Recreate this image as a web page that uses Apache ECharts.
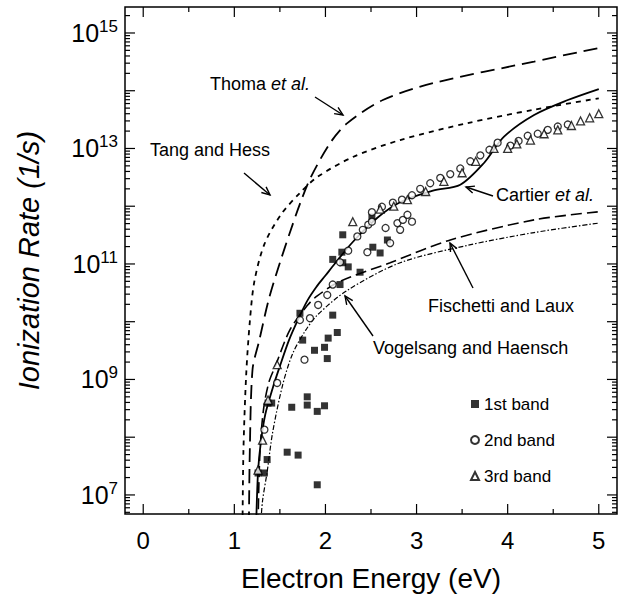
<!DOCTYPE html>
<html>
<head>
<meta charset="utf-8">
<script src="https://cdn.jsdelivr.net/npm/echarts@6.0.0/dist/echarts.min.js"></script>
<style>
  html, body { margin: 0; padding: 0; background: #fff; }
  #chart { width: 633px; height: 606px; }
</style>
</head>
<body>
<div id="chart"></div>
<script>
// 各曲线与散点数据 [电子能量 eV, 电离率 1/s]
const tangHess = [[1.09, 3e6], [1.10, 6e7], [1.13, 1.2e9], [1.17, 1.0e10], [1.22, 5.0e10], [1.33, 2.2e11],
  [1.51, 7.1e11], [1.72, 1.7e12], [1.91, 3.2e12], [2.30, 7.1e12], [2.82, 1.4e13], [3.56, 2.75e13],
  [4.29, 4.7e13], [5.0, 7.4e13]]
const thoma = [[1.16, 3e6], [1.17, 6e7], [1.20, 1.5e9], [1.27, 4.5e9], [1.38, 2.5e10], [1.50, 1.05e11],
  [1.61, 3.5e11], [1.72, 1.1e12], [1.84, 3.2e12], [2.06, 1.3e13], [2.24, 2.75e13], [2.63, 6.9e13],
  [3.18, 1.35e14], [4.29, 3.2e14], [5.0, 5.5e14]]
const cartier = [[1.24, 3.2e6], [1.26, 2.5e7], [1.29, 8e7], [1.34, 2.5e8], [1.42, 7e8], [1.50, 1.7e9],
  [1.60, 4.8e9], [1.70, 1.1e10], [1.80, 2.3e10], [1.90, 4e10], [2.00, 6.3e10], [2.10, 1e11], [2.30, 2.4e11],
  [2.57, 6.3e11], [2.82, 1.17e12], [3.18, 1.86e12], [3.48, 2.35e12], [3.74, 5.6e12], [3.96, 1.6e13],
  [4.29, 3.8e13], [4.66, 6.9e13], [5.0, 1.07e14]]
const fischetti = [[1.26, 3e6], [1.28, 5e7], [1.32, 3e8], [1.38, 9e8], [1.45, 1.7e9], [1.61, 7.2e9],
  [1.80, 1.9e10], [1.91, 2.8e10], [2.16, 5e10], [2.71, 1.05e11], [3.37, 2.6e11], [4.29, 5.8e11], [5.0, 8e11]]
const vogelsang = [[1.29, 3.2e6], [1.31, 8e6], [1.36, 2.5e7], [1.42, 1.2e8], [1.53, 8e8], [1.64, 2.8e9],
  [1.78, 7e9], [1.91, 1.3e10], [2.24, 3.5e10], [2.82, 1.05e11], [3.56, 2.1e11], [4.29, 3.5e11], [5.0, 5.1e11]]

const band1 = [[2.19, 3.2e11], [2.18, 1.6e11], [2.08, 1.2e11], [2.19, 1.05e11], [2.25, 8.9e10], [2.38, 7.2e10],
  [2.16, 4.4e10], [1.72, 1.4e10], [2.08, 1.3e10], [2.13, 6.5e9], [2.03, 5.2e9], [1.88, 3.2e9], [1.99, 3.6e9],
  [2.02, 2.3e9], [1.75, 4.8e9], [1.63, 3.3e8], [1.80, 5e8], [1.80, 3.6e8], [1.91, 2.8e8], [1.99, 3.5e8],
  [1.58, 5.5e7], [1.70, 4.9e7], [1.91, 1.5e7], [1.33, 2.4e7], [1.26, 2.4e7], [1.36, 4.1e7], [1.37, 3.9e8],
  [1.41, 3.9e8], [2.51, 6.5e11], [2.52, 1.95e11], [2.60, 1.55e11], [2.68, 2.6e11]]
const band2 = [[1.33, 1.35e8], [1.47, 8.7e8], [1.77, 2.2e9], [1.72, 1.07e10], [1.83, 1.15e10], [1.92, 1.95e10],
  [2.02, 2.9e10], [2.08, 4.4e10], [2.16, 1.07e11], [2.25, 1.7e11], [2.35, 3e11], [2.41, 3.9e11], [2.47, 4.8e11],
  [2.51, 7.9e11], [2.62, 9.8e11], [2.74, 1.15e12], [2.51, 5.4e11], [2.66, 4.2e11], [2.79, 5.1e11], [2.85, 5.8e11],
  [2.82, 3.9e11], [2.71, 2.3e11], [2.46, 1.6e11], [2.90, 7.1e11], [2.95, 5.4e11], [2.84, 1.3e12], [2.95, 1.55e12],
  [3.04, 2e12], [3.15, 2.5e12], [3.26, 3.1e12], [3.37, 3.6e12], [3.48, 4.5e12], [3.59, 6e12], [3.70, 7.6e12],
  [3.80, 9.5e12], [3.89, 1.26e13], [4.03, 1.12e13], [4.12, 1.35e13], [4.22, 1.66e13], [4.33, 1.8e13],
  [4.44, 2.1e13], [4.55, 2.4e13], [4.66, 2.6e13]]
const band3 = [[1.26, 2.7e7], [1.31, 8.9e7], [1.37, 4.4e8], [1.47, 1.8e9], [2.30, 5.4e11], [2.60, 8.9e11],
  [2.75, 1e12], [2.90, 1.3e12], [3.10, 1.8e12], [3.30, 2.7e12], [3.50, 3.8e12], [3.65, 6e12], [3.85, 1e13],
  [4.00, 1e13], [4.10, 1.2e13], [4.25, 1.4e13], [4.40, 1.8e13], [4.55, 2.1e13], [4.70, 2.5e13], [4.80, 3e13],
  [4.90, 3.4e13], [5.00, 4e13]]

const X_MIN = -0.2
const X_MAX = 5.2
const Y_MIN = Math.pow(10, 6.67)
const Y_MAX = Math.pow(10, 15.45)
const FONT = 'Liberation Sans'

// 刻度（内向，四边）
const ticks = []
for (let e = 6; e <= 15; e++) {
  for (let k = 1; k <= 9; k++) {
    const v = k * Math.pow(10, e)
    if (v < Y_MIN || v > Y_MAX) continue
    ticks.push([X_MIN, v, k === 1 ? 10 : 5, 1])
  }
}
for (let i = 0; i <= 10; i++) {
  ticks.push([i / 2, Y_MIN, i % 2 === 0 ? 10 : 5, 0])
}

function renderTick(params, api) {
  const len = api.value(2)
  const side = api.value(3)
  let a, b
  if (side === 1) {
    a = api.coord([X_MIN, api.value(1)])
    b = api.coord([X_MAX, api.value(1)])
    return {
      type: 'group',
      children: [
        { type: 'line', shape: { x1: a[0], y1: a[1], x2: a[0] + len, y2: a[1] }, style: { stroke: '#000', lineWidth: 1.2 } },
        { type: 'line', shape: { x1: b[0], y1: b[1], x2: b[0] - len, y2: b[1] }, style: { stroke: '#000', lineWidth: 1.2 } },
      ],
    }
  }
  a = api.coord([api.value(0), Y_MIN])
  b = api.coord([api.value(0), Y_MAX])
  return {
    type: 'group',
    children: [
      { type: 'line', shape: { x1: a[0], y1: a[1], x2: a[0], y2: a[1] - len }, style: { stroke: '#000', lineWidth: 1.2 } },
      { type: 'line', shape: { x1: b[0], y1: b[1], x2: b[0], y2: b[1] + len }, style: { stroke: '#000', lineWidth: 1.2 } },
    ],
  }
}

// 注释箭头
function arrow(x1, y1, x2, y2) {
  const a = Math.atan2(y2 - y1, x2 - x1)
  const h = 9
  const s = 0.42
  return {
    type: 'group',
    children: [
      { type: 'line', shape: { x1, y1, x2, y2 }, style: { stroke: '#000', lineWidth: 1.4 } },
      {
        type: 'polyline',
        shape: {
          points: [
            [x2 - h * Math.cos(a - s), y2 - h * Math.sin(a - s)],
            [x2, y2],
            [x2 - h * Math.cos(a + s), y2 - h * Math.sin(a + s)],
          ],
        },
        style: { stroke: '#000', fill: null, lineWidth: 1.4 },
      },
    ],
  }
}

function note(x, y, text) {
  return {
    type: 'text',
    x,
    y,
    style: {
      text,
      fill: '#000',
      fontSize: 18,
      fontFamily: FONT,
      verticalAlign: 'middle',
      rich: { i: { fontStyle: 'italic', fontSize: 18, fontFamily: FONT, fill: '#000' } },
    },
  }
}

function curve(name, data, type, width) {
  return {
    name,
    type: 'line',
    data,
    symbol: 'none',
    smooth: 0.3,
    clip: true,
    lineStyle: { color: '#000', width, type },
    z: 3,
  }
}

function dots(name, data, symbol, filled) {
  return {
    name,
    type: 'scatter',
    data,
    symbol,
    symbolSize: symbol === 'triangle' ? 8 : 7,
    itemStyle: filled
      ? { color: '#000' }
      : { color: '#fff', borderColor: '#000', borderWidth: 1.3 },
    z: 4,
  }
}

const chart = echarts.init(document.getElementById('chart'), null, { renderer: 'svg' })
chart.setOption({
  backgroundColor: '#fff',
  animation: false,
  textStyle: { fontFamily: FONT, color: '#000' },
  grid: { left: 125, right: 16, top: 7, bottom: 92, show: true, borderColor: '#000', borderWidth: 1.5 },
  legend: {
    data: ['1st band', '2nd band', '3rd band'],
    orient: 'vertical',
    left: 465,
    top: 389,
    itemWidth: 8,
    itemHeight: 8,
    itemGap: 16,
    textStyle: { fontSize: 17, fontFamily: FONT, color: '#000', lineHeight: 20 },
  },
  xAxis: {
    type: 'value',
    min: X_MIN,
    max: X_MAX,
    splitNumber: 5,
    axisLine: { show: false },
    axisTick: { show: false },
    splitLine: { show: false },
    axisLabel: {
      fontSize: 24,
      color: '#000',
      margin: 14,
      formatter: (v) => (Math.abs(v - Math.round(v)) < 1e-6 ? String(Math.round(v)) : ''),
    },
    name: 'Electron Energy (eV)',
    nameLocation: 'middle',
    nameGap: 50,
    nameTextStyle: { fontSize: 28, color: '#000', fontFamily: FONT },
  },
  yAxis: {
    type: 'log',
    logBase: 10,
    min: Y_MIN,
    max: Y_MAX,
    splitNumber: 10,
    axisLine: { show: false },
    axisTick: { show: false },
    splitLine: { show: false },
    axisLabel: {
      margin: 7,
      formatter: (v) => {
        const e = Math.log10(v)
        const r = Math.round(e)
        if (Math.abs(e - r) < 1e-6 && Math.abs(r % 2) === 1) return '{b|10}{s|' + r + '}'
        return ''
      },
      rich: {
        b: { fontSize: 25, lineHeight: 30, color: '#000', fontFamily: FONT },
        s: { fontSize: 17, lineHeight: 14, verticalAlign: 'top', color: '#000', fontFamily: FONT },
      },
    },
    name: 'Ionization Rate (1/s)',
    nameLocation: 'middle',
    nameGap: 82,
    nameTextStyle: { fontSize: 29, fontStyle: 'italic', color: '#000', fontFamily: FONT },
  },
  graphic: [
    note(210, 84, 'Thoma {i|et al.}'),
    arrow(315, 97, 343, 115),
    note(150, 150, 'Tang and Hess'),
    arrow(244, 173, 270, 195),
    note(496, 195, 'Cartier {i|et al.}'),
    arrow(493, 196, 466, 187),
    note(428, 306, 'Fischetti and Laux'),
    arrow(473, 288, 450, 243),
    note(373, 348, 'Vogelsang and Haensch'),
    arrow(373, 336, 345, 296),
  ],
  series: [
    curve('Tang and Hess', tangHess, [5, 5], 1.8),
    curve('Thoma et al.', thoma, [14, 7], 1.8),
    curve('Cartier et al.', cartier, 'solid', 1.8),
    curve('Fischetti and Laux', fischetti, [11, 5], 1.6),
    curve('Vogelsang and Haensch', vogelsang, [5, 2, 1.5, 2], 1.2),
    dots('1st band', band1, 'rect', true),
    dots('2nd band', band2, 'circle', false),
    dots('3rd band', band3, 'triangle', false),
    {
      type: 'custom',
      data: ticks,
      dimensions: ['x', 'y', 'len', 'side'],
      encode: { x: 0, y: 1 },
      renderItem: renderTick,
      silent: true,
      clip: false,
      z: 5,
    },
  ],
})
</script>
</body>
</html>
